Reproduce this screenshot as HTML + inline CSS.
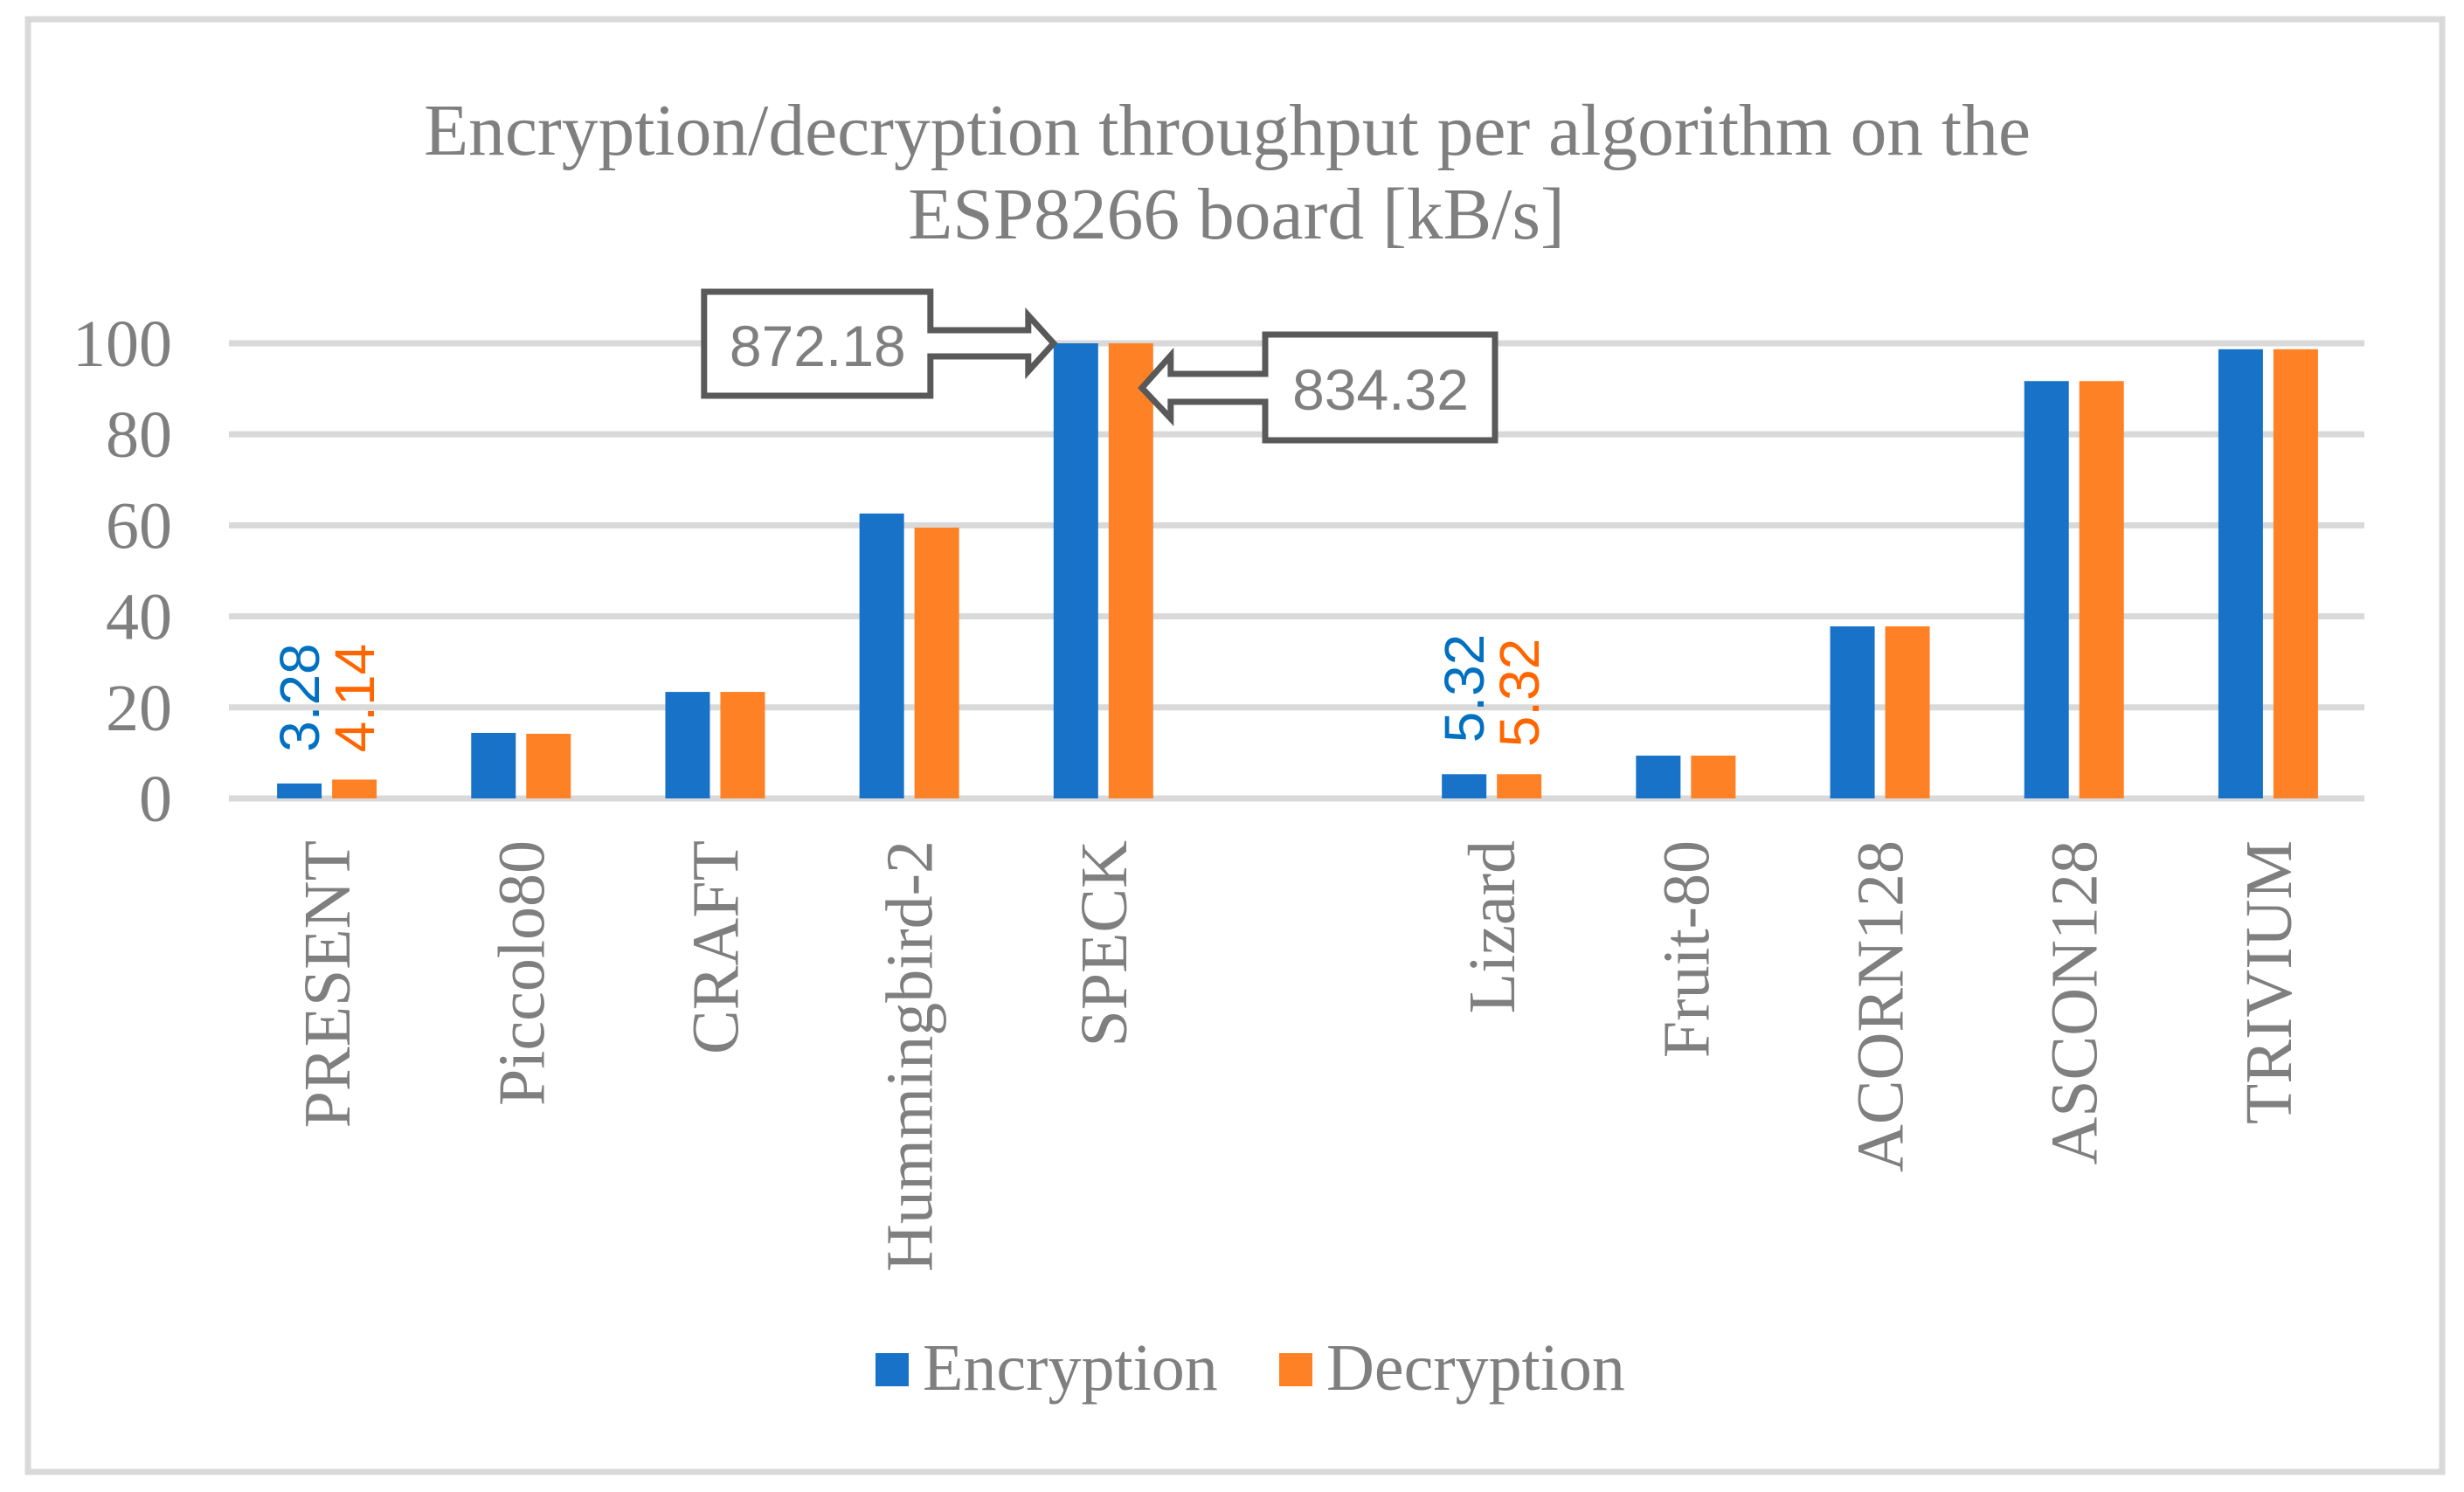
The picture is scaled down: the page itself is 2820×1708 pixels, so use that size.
<!DOCTYPE html>
<html><head><meta charset="utf-8"><style>
html,body{margin:0;padding:0;background:#fff;}
svg{display:block;}
</style></head><body>
<svg id="chart" width="2820" height="1708" viewBox="0 0 2820 1708" xmlns="http://www.w3.org/2000/svg">
<rect x="32" y="22" width="2763" height="1663" fill="#fff" stroke="#d9d9d9" stroke-width="7"/>
<text font-family="Liberation Serif, serif" font-size="83.5" fill="#7f7f7f" text-anchor="middle">
<tspan x="1415" y="177">Encryption/decryption throughput per algorithm on the</tspan>
<tspan x="1415" y="273">ESP8266 board [kB/s]</tspan></text>
<g id="grid"></g>
<g id="bars"></g>
<g id="labels"></g>
<g id="callouts"></g>
<g>
<rect x="1002" y="1549" width="38" height="38" fill="#1873C8"/>
<text x="1056" y="1591" font-family="Liberation Serif, serif" font-size="76" fill="#7f7f7f">Encryption</text>
<rect x="1464" y="1549" width="38" height="38" fill="#FF8125"/>
<text x="1518" y="1591" font-family="Liberation Serif, serif" font-size="76" fill="#7f7f7f">Decryption</text>
</g>
</svg>
<script>
const categories = ["PRESENT","Piccolo80","CRAFT","Hummingbird-2","SPECK","","Lizard","Fruit-80","ACORN128","ASCON128","TRIVIUM"];
const encryption = [3.28,14.4,23.4,62.6,872.18,null,5.32,9.4,37.8,91.7,98.7];
const decryption = [4.14,14.2,23.4,59.5,834.32,null,5.32,9.4,37.8,91.7,98.7];
const yTicks = [0,20,40,60,80,100];
const labelIdx = [0,6];
const calloutIdx = [4];

const NS="http://www.w3.org/2000/svg";
const X0=262,X1=2706,Y0=914,Y100=393,YMAX=100;
const band=(X1-X0)/categories.length;
const xc=i=>X0+band*(i+0.5);
const y=v=>Y0-(Math.min(v,YMAX)/YMAX)*(Y0-Y100);
function mk(tag,attrs,parent){const e=document.createElementNS(NS,tag);for(const k in attrs)e.setAttribute(k,attrs[k]);parent.appendChild(e);return e;}
const grid=document.getElementById('grid'),bars=document.getElementById('bars'),labels=document.getElementById('labels'),callouts=document.getElementById('callouts');

yTicks.forEach(t=>{
  const l=mk('rect',{x:X0,y:y(t)-3.5,width:X1-X0,height:7,fill:'#d9d9d9'},grid);
  
  
  const tx=mk('text',{x:197,y:y(t)+26,'text-anchor':'end','font-family':'Liberation Serif, serif','font-size':76,fill:'#7f7f7f'},grid);
  tx.textContent=t;
  
  
});

categories.forEach((c,i)=>{
  const cx=xc(i);
  if(encryption[i]!=null){
    const b=mk('rect',{x:cx-56,y:y(encryption[i]),width:51,height:Y0-y(encryption[i]),fill:'#1873C8'},bars);
    
    
  }
  if(decryption[i]!=null){
    const b=mk('rect',{x:cx+7,y:y(decryption[i]),width:51,height:Y0-y(decryption[i]),fill:'#FF8125'},bars);
    
    
  }
  if(c){
    const t=mk('text',{transform:`translate(${cx+27},962) rotate(-90)`,'text-anchor':'end','font-family':'Liberation Serif, serif','font-size':76,fill:'#7f7f7f'},labels);
    t.textContent=c;
    
    
  }
});

labelIdx.forEach(i=>{
  const cx=xc(i);
  const a=mk('text',{transform:`translate(${cx-8},${y(encryption[i])-36}) rotate(-90)`,'font-family':'Liberation Sans, sans-serif','font-size':64,fill:'#0070C0'},labels);
  a.textContent=encryption[i].toFixed(2);
  
  
  const b=mk('text',{transform:`translate(${cx+55},${y(decryption[i])-31}) rotate(-90)`,'font-family':'Liberation Sans, sans-serif','font-size':64,fill:'#FF6600'},labels);
  b.textContent=decryption[i].toFixed(2);
  
  
});

calloutIdx.forEach(i=>{
  const cx=xc(i);
  const tipX=cx-56, tipY=y(encryption[i]);
  const p1=mk('path',{d:`M${tipX-141},${tipY-59} H${tipX-400} V${tipY+60} H${tipX-141} V${tipY+15} H${tipX-29} V${tipY+32} L${tipX},${tipY} L${tipX-29},${tipY-32} V${tipY-15} H${tipX-141} Z`,fill:'#fff',stroke:'#595959','stroke-width':7,'stroke-linejoin':'miter'},callouts);
  
  
  const t1=mk('text',{x:tipX-270,y:tipY+26,'text-anchor':'middle','font-family':'Liberation Sans, sans-serif','font-size':66,fill:'#7f7f7f'},callouts);
  t1.textContent=encryption[i].toFixed(2);
  
  
  const tx=cx+45, ty=y(decryption[i])+51;
  const bx=1448;
  const p2=mk('path',{d:`M${bx},${ty-61} H${bx+263} V${ty+60} H${bx} V${ty+16} H${tx+33} V${ty+35} L${tx},${ty} L${tx+33},${ty-37} V${ty-16} H${bx} Z`,fill:'#fff',stroke:'#595959','stroke-width':7},callouts);
  
  
  const t2=mk('text',{x:bx+132,y:ty+25,'text-anchor':'middle','font-family':'Liberation Sans, sans-serif','font-size':66,fill:'#7f7f7f'},callouts);
  t2.textContent=decryption[i].toFixed(2);
  
  
});
</script>
</body></html>
